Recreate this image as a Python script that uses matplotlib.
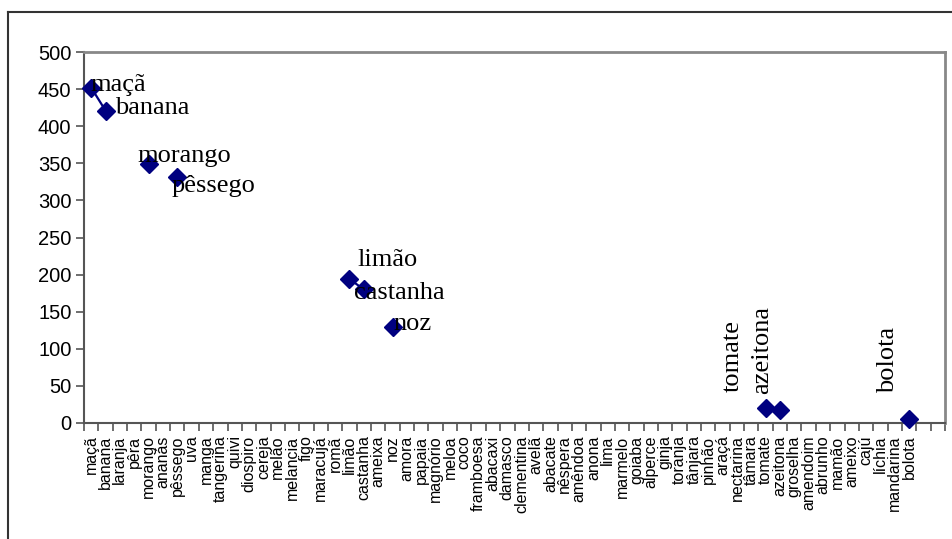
import numpy as np
import matplotlib
matplotlib.use("Agg")
import matplotlib.pyplot as plt
from matplotlib.lines import Line2D

W, H = 952, 539

fruits = ["maçã", "banana", "laranja", "pêra", "morango", "ananás", "pêssego", "uva",
          "manga", "tangerina", "quivi", "diospiro", "cereja", "melão", "melancia", "figo",
          "maracujá", "romã", "limão", "castanha", "ameixa", "noz", "amora", "papaia",
          "magnório", "meloa", "coco", "framboesa", "abacaxi", "damasco", "clementina",
          "avelã", "abacate", "nêspera", "amêndoa", "anona", "lima", "marmelo", "goiaba",
          "alperce", "ginja", "toranja", "tânjara", "pinhão", "araçá", "nectarina", "tâmara",
          "tomate", "azeitona", "groselha", "amendoim", "abrunho", "mamão", "ameixo", "cajú",
          "líchia", "mandarina", "bolota", "", ""]

counts = {"maçã": 452, "banana": 421, "morango": 349, "pêssego": 331, "limão": 194,
          "castanha": 180, "noz": 130, "tomate": 20, "azeitona": 18, "bolota": 6}

# label offsets in pixels (dx, dy, rotation, ha, va)
label_pos = {
    "maçã":     (-1, -3, 0, "left", "baseline"),
    "banana":   (9, -3, 0, "left", "baseline"),
    "morango":  (-11, 2, 0, "left", "baseline"),
    "pêssego":  (-6, -15, 0, "left", "baseline"),
    "limão":    (8, 13, 0, "left", "baseline"),
    "castanha": (-10, -10, 0, "left", "baseline"),
    "noz":      (1, -3, 0, "left", "baseline"),
    "tomate":   (-33, 16, 90, "center", "bottom"),
    "azeitona": (-18, 16, 90, "center", "bottom"),
    "bolota":   (-21, 26, 90, "center", "bottom"),
}

x = np.arange(len(fruits))
y = np.array([counts.get(f, np.nan) for f in fruits], dtype=float)

fig = plt.figure(figsize=(W / 100, H / 100), dpi=100)
ax = fig.add_axes([84 / W, 1 - 423 / H, (945 - 84) / W, (423 - 52) / H])

navy = "#000080"
ax.plot(x, y, color=navy, lw=1.6, marker="D", markersize=9, markeredgecolor=navy,
        markerfacecolor=navy, clip_on=False, zorder=3)

for f, (dx, dy, rot, ha, va) in label_pos.items():
    i = fruits.index(f)
    ax.annotate(f, (x[i], y[i]), xytext=(dx, dy), textcoords="offset pixels",
                rotation=rot, ha=ha, va=va, fontsize=19, family="Liberation Serif",
                color="black", zorder=4)

ax.set_xlim(-0.5, len(fruits) - 0.5)
ax.set_ylim(0, 500)
ax.set_yticks(np.arange(0, 501, 50))
ax.set_xticks(np.arange(-0.5, len(fruits), 1.0))
ax.set_xticklabels([])
ax.set_xticks(x, minor=True)
ax.set_xticklabels(fruits, minor=True, rotation=90, ha="center", va="top",
                   fontsize=11.5, family="Liberation Sans")
ax.tick_params(axis="x", which="major", direction="out", length=6, width=1.2, color="#555555")
ax.tick_params(axis="x", which="minor", length=0, pad=9)
ax.tick_params(axis="y", direction="out", length=6, width=1.2, color="#555555",
               labelsize=14.5, pad=3)
for t in ax.get_yticklabels():
    t.set_family("Liberation Sans")

for s in ("left", "bottom"):
    ax.spines[s].set_color("#555555")
    ax.spines[s].set_linewidth(1.5)
for s in ("top", "right"):
    ax.spines[s].set_color("#888888")
    ax.spines[s].set_linewidth(2)

# outer chart frame (top and left edges visible)
fig.add_artist(Line2D([8 / W, 1.0], [1 - 12 / H, 1 - 12 / H], transform=fig.transFigure,
                      color="#333333", lw=1.5))
fig.add_artist(Line2D([8 / W, 8 / W], [0.0, 1 - 12 / H], transform=fig.transFigure,
                      color="#333333", lw=1.5))

fig.savefig("out.png", dpi=100)
